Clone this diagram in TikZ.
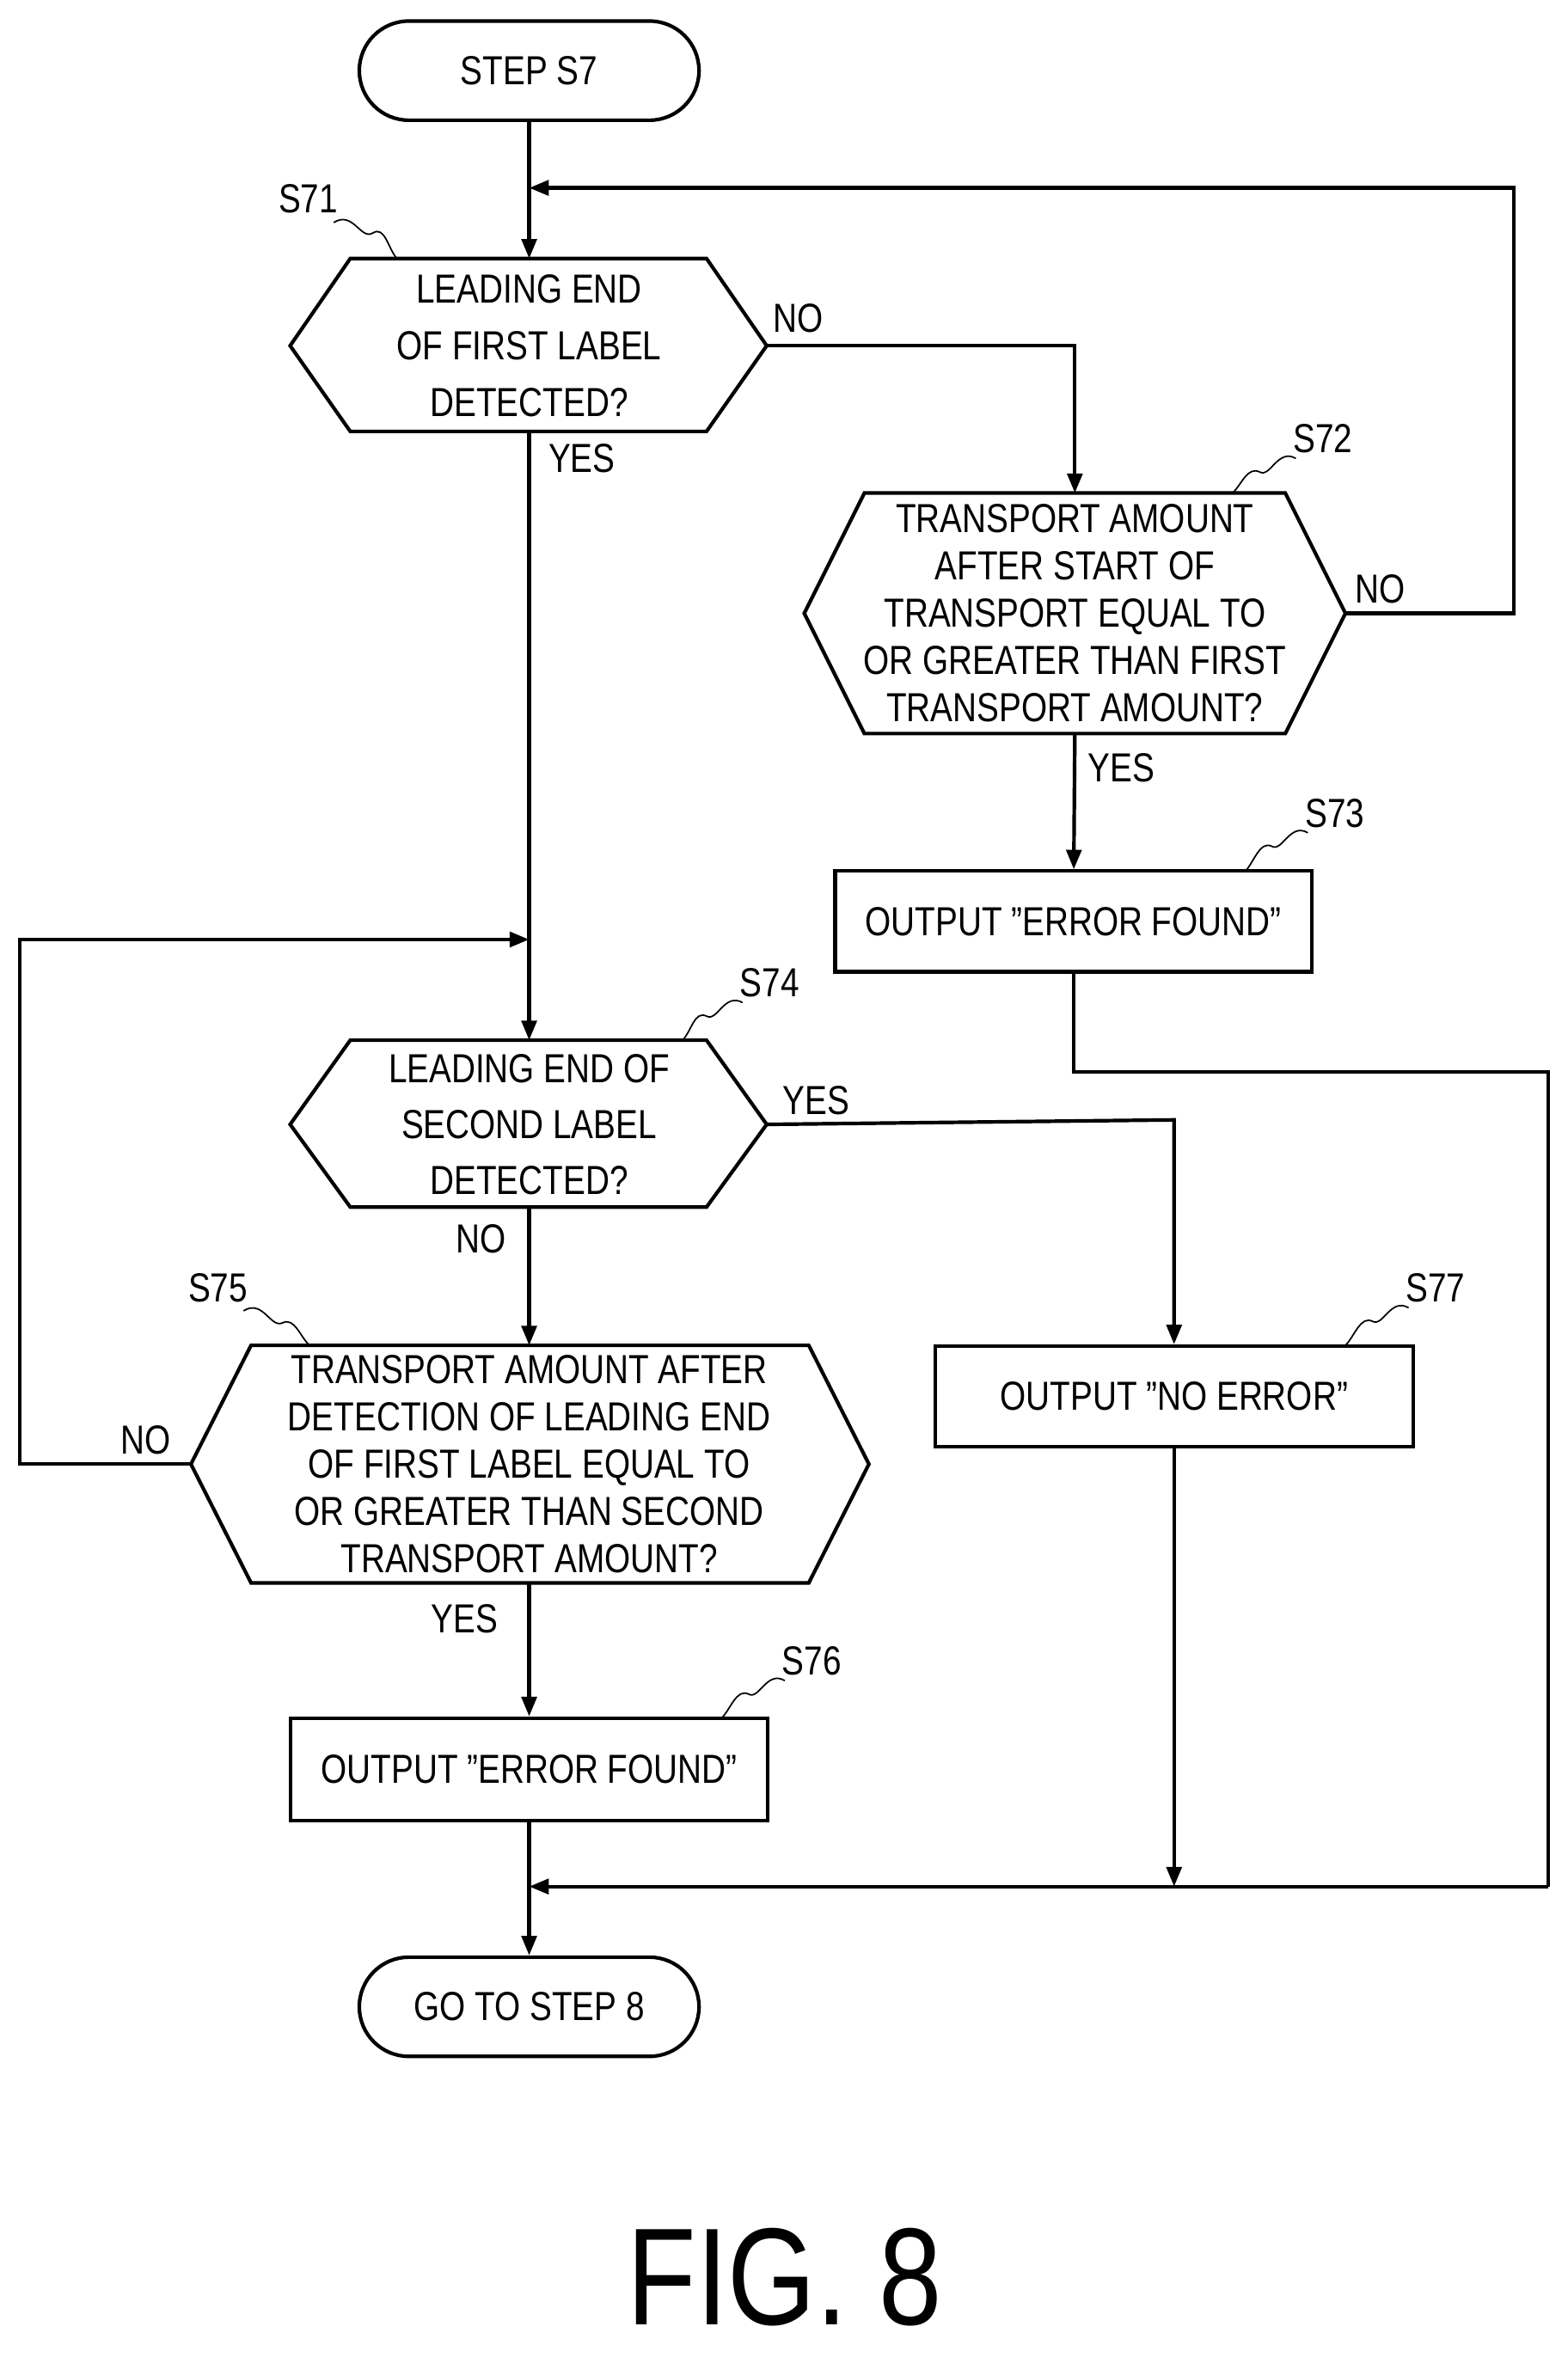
\documentclass[tikz,border=0pt]{standalone}
\usepackage{fontspec}
\setmainfont[FakeStretch=0.82]{Liberation Sans}
\usetikzlibrary{calc,arrows.meta}
\newcommand{\dq}{\symbol{34}}
\begin{document}
\begin{tikzpicture}[x=1pt,y=-1pt,line width=2.4pt,
  txt/.style={font=\fontsize{27}{31.5}\selectfont,align=center,inner sep=0},
  box/.style={draw,txt,inner sep=0},
  term/.style={draw,rounded corners=33pt,minimum width=226pt,minimum height=66pt,txt},
  arr/.style={-{Triangle[length=13pt,width=10pt]}},
  lbl/.style={font=\fontsize{27}{30}\selectfont,inner sep=0},
  sq/.style={line width=1pt}]
\useasboundingbox (0,0) rectangle (1043,1568);
\newcommand{\hexdraw}[5]{% name, x1, x2, ytop, ybot
  \draw ($(#1)+(#2,0)$) -- ($(#1)+(#2+40,#4)$) -- ($(#1)+(#3-40,#4)$) -- ($(#1)+(#3,0)$) -- ($(#1)+(#3-40,#5)$) -- ($(#1)+(#2+40,#5)$) -- cycle;}
\node[term] (st) at (352,47) {STEP S7};
\node[txt,font=\fontsize{27}{37.5}\selectfont] (s71) at (352,230) {LEADING END\\OF FIRST LABEL\\DETECTED?};
\hexdraw{s71}{-159}{158}{-58}{57}
\coordinate (s71t) at (352,172); \coordinate (s71b) at (352,287);
\coordinate (s71r) at (510,230);
\node[txt] (s72) at (715,408) {TRANSPORT AMOUNT\\AFTER START OF\\TRANSPORT EQUAL TO\\OR GREATER THAN FIRST\\TRANSPORT AMOUNT?};
\hexdraw{s72}{-180}{180}{-80}{80}
\coordinate (s72t) at (715,328); \coordinate (s72b) at (715,488); \coordinate (s72r) at (895,408);
\node[box,minimum width=317pt,minimum height=67pt] (s73) at (714,613) {OUTPUT \dq ERROR FOUND\dq};
\node[txt,font=\fontsize{27}{37}\selectfont] (s74) at (352,748) {LEADING END OF\\SECOND LABEL\\DETECTED?};
\hexdraw{s74}{-159}{158}{-56}{55}
\coordinate (s74t) at (352,692); \coordinate (s74b) at (352,803); \coordinate (s74r) at (510,748);
\node[txt] (s75) at (352,974) {TRANSPORT AMOUNT AFTER\\DETECTION OF LEADING END\\OF FIRST LABEL EQUAL TO\\OR GREATER THAN SECOND\\TRANSPORT AMOUNT?};
\hexdraw{s75}{-225}{226}{-79}{79}
\coordinate (s75t) at (352,895); \coordinate (s75b) at (352,1053); \coordinate (s75l) at (127,974);
\node[box,minimum width=317pt,minimum height=68pt] (s76) at (352,1177) {OUTPUT \dq ERROR FOUND\dq};
\node[box,minimum width=318pt,minimum height=67pt] (s77) at (781,929) {OUTPUT \dq NO ERROR\dq};
\node[term] (en) at (352,1335) {GO TO STEP 8};
\node[font=\fontsize{92}{92}\selectfont,inner sep=0] (fig) at (522,1515) {FIG. 8};
\coordinate (j1) at (352,125); \coordinate (j2) at (352,625); \coordinate (j3) at (352,1255);
\draw[arr] (st) -- (s71t);
\draw[arr] (s71b) -- (s74t);
\draw[arr] (s71r) -| (s72t);
\draw[arr] (s72r) -- (1007,408) -- (1007,125) -- (j1);
\draw[arr] (s72b) -- (s73);
\draw (s73) -- (714,713) -- (1030,713) -- (1030,1255);
\draw[arr] (1030,1255) -- (j3);
\draw[arr] (s74r) -- (781,745) -- (s77);
\draw[arr] (s74b) -- (s75t);
\draw[arr] (s75l) -- (13,974) -- (13,625) -- (j2);
\draw[arr] (s75b) -- (s76);
\draw[arr] (s77) -- (781,1255);
\draw[arr] (s76) -- (en);
\node[lbl] at (531,212) {NO};
\node[lbl] at (387,305) {YES};
\node[lbl] at (918,392) {NO};
\node[lbl] at (746,511) {YES};
\node[lbl] at (543,732) {YES};
\node[lbl] at (320,824) {NO};
\node[lbl] at (97,958) {NO};
\node[lbl] at (309,1077) {YES};
\node[lbl] (l71) at (205,132) {S71};
\draw[sq] (222,148) .. controls (235,140) and (240,160) .. (248,155) .. controls (256,150) and (258,165) .. (264,172);
\node[lbl] (l72) at (880,292) {S72};
\draw[sq] (862,305) .. controls (850,298) and (845,318) .. (838,314) .. controls (830,310) and (826,322) .. (820,328);
\node[lbl] (l73) at (888,541) {S73};
\draw[sq] (870,554) .. controls (858,547) and (853,567) .. (846,563) .. controls (838,559) and (834,574) .. (828,580);
\node[lbl] (l74) at (512,654) {S74};
\draw[sq] (494,667) .. controls (482,660) and (477,680) .. (470,676) .. controls (462,672) and (460,686) .. (454,692);
\node[lbl] (l75) at (145,857) {S75};
\draw[sq] (162,872) .. controls (175,864) and (180,884) .. (188,880) .. controls (196,876) and (200,890) .. (206,895);
\node[lbl] (l76) at (540,1105) {S76};
\draw[sq] (522,1118) .. controls (510,1111) and (505,1131) .. (498,1127) .. controls (490,1123) and (486,1137) .. (480,1143);
\node[lbl] (l77) at (955,857) {S77};
\draw[sq] (937,870) .. controls (925,863) and (920,883) .. (913,879) .. controls (905,875) and (901,889) .. (895,895);
\end{tikzpicture}
\end{document}
